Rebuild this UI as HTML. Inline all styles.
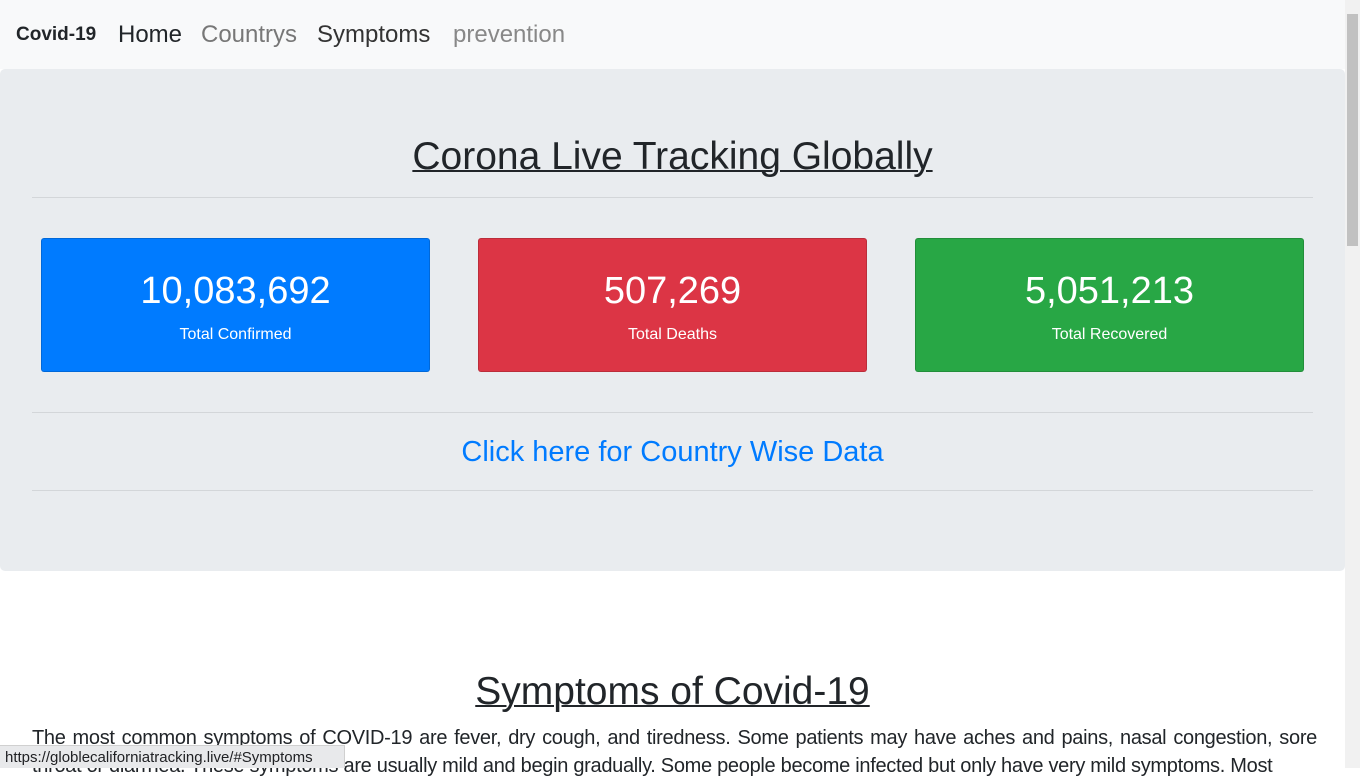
<!DOCTYPE html>
<html><head><meta charset="utf-8"><style>
body{margin:0;width:1360px;height:768px;overflow:hidden;font-family:"Liberation Sans",sans-serif;color:#212529;background:#fff;position:relative}
.nav{position:absolute;left:0;top:0;width:1345px;height:69px;background:#f8f9fa}
.nav span{position:absolute;top:21px;font-size:24px;white-space:nowrap}
.jumbo{position:absolute;left:0;top:69px;width:1345px;height:502px;background:#e9ecef;border-radius:5px}
h1{position:absolute;margin:0;font-weight:normal;font-size:39px;text-decoration:underline;text-decoration-thickness:2px;width:100%;text-align:center;left:0}
.hr{position:absolute;left:32px;width:1281px;height:1px;background:#d3d6d9}
.card{position:absolute;top:238px;width:387px;height:132px;border:1px solid rgba(0,0,0,.15);border-radius:3px;color:#fff;text-align:center}
.card .n{position:absolute;top:31px;width:100%;font-size:38px;font-weight:300}
.card .l{position:absolute;top:87px;width:100%;font-size:16px}
.sb{position:absolute;right:0;top:0;width:15px;height:768px;background:#f1f1f1}
.thumb{position:absolute;left:2px;top:14px;width:11px;height:232px;background:#c1c1c1}
p{position:absolute;left:32px;top:724px;width:1285px;margin:0;font-size:20px;line-height:28px;font-weight:300;text-align:justify;color:#212529;letter-spacing:-0.3px}
.status{position:absolute;left:0;top:745px;width:345px;height:23px;background:#e8e9eb;border:1px solid #d0d0d0;border-left:none;border-bottom:none;font-size:15px;line-height:23px;padding-left:5px;box-sizing:border-box;color:#202124}
</style></head><body>
<div class="nav">
<span style="left:16px;top:24px;font-size:19px;font-weight:bold">Covid-19</span>
<span style="left:118px;color:#212529">Home</span>
<span style="left:201px;color:#777">Countrys</span>
<span style="left:317px;color:#333">Symptoms</span>
<span style="left:453px;color:#888">prevention</span>
</div>
<div class="jumbo">
<h1 style="top:66px">Corona Live Tracking Globally</h1>
<div class="hr" style="top:128px"></div>
<div class="hr" style="top:343px"></div>
<div class="hr" style="top:421px"></div>
<div style="position:absolute;top:367px;width:100%;text-align:center;font-size:29px;color:#007bff">Click here for Country Wise Data</div>
</div>
<div class="card" style="left:41px;background:#007bff"><div class="n">10,083,692</div><div class="l">Total Confirmed</div></div>
<div class="card" style="left:478px;background:#dc3545"><div class="n">507,269</div><div class="l">Total Deaths</div></div>
<div class="card" style="left:915px;background:#28a745"><div class="n">5,051,213</div><div class="l">Total Recovered</div></div>
<h1 style="top:670px;width:1345px">Symptoms of Covid-19</h1>
<p>The most common symptoms of COVID-19 are fever, dry cough, and tiredness. Some patients may have aches and pains, nasal congestion, sore throat or diarrhea. These symptoms are usually mild and begin gradually. Some people become infected but only have very mild symptoms. Most</p>
<div class="status">https://globlecaliforniatracking.live/#Symptoms</div>
<div class="sb"><div class="thumb"></div></div>
</body></html>
